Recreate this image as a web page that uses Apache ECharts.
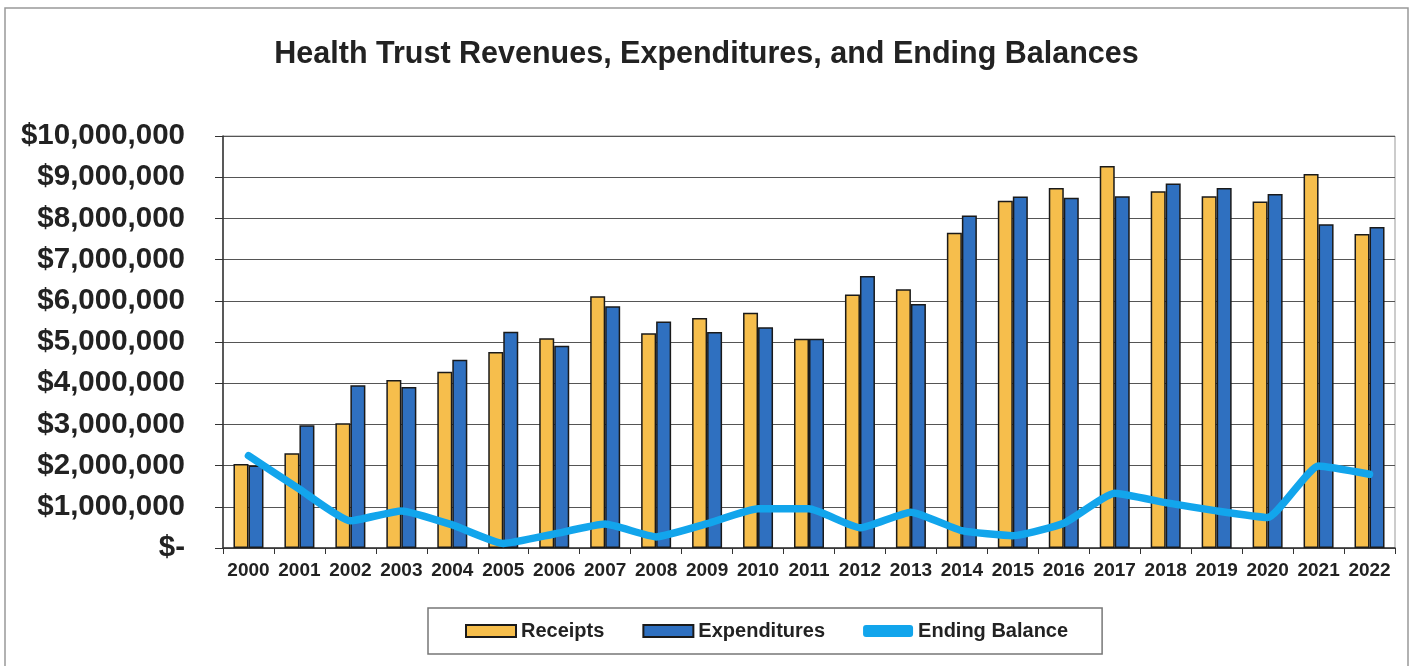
<!DOCTYPE html>
<html>
<head>
<meta charset="utf-8">
<script src="https://cdn.jsdelivr.net/npm/echarts@6/dist/echarts.min.js"></script>
<style>
html,body{margin:0;padding:0;background:#fff;}
#chart{width:1413px;height:666px;}
</style>
</head>
<body>
<div id="chart"></div>
<script>
var years = ['2000','2001','2002','2003','2004','2005','2006','2007','2008','2009','2010','2011','2012','2013','2014','2015','2016','2017','2018','2019','2020','2021','2022'];
var receipts = [2040000,2300000,3030000,4080000,4280000,4760000,5090000,6110000,5210000,5580000,5710000,5080000,6150000,6280000,7650000,8430000,8740000,9270000,8660000,8540000,8410000,9080000,7620000];
var expenditures = [2000000,2980000,3950000,3910000,4570000,5250000,4910000,5870000,5500000,5240000,5360000,5080000,6600000,5920000,8070000,8530000,8500000,8540000,8850000,8740000,8590000,7860000,7790000];
var endingBalance = [2240000,1430000,660000,900000,560000,110000,340000,580000,270000,590000,950000,950000,490000,870000,420000,300000,600000,1330000,1100000,900000,740000,1990000,1790000];
var yTicks = [0,1000000,2000000,3000000,4000000,5000000,6000000,7000000,8000000,9000000,10000000];

var chart = echarts.init(document.getElementById('chart'));
var font = 'Liberation Sans, Arial, sans-serif';
chart.setOption({
  backgroundColor: '#fff',
  animation: false,
  graphic: [{
    type: 'rect', shape: {x: 5, y: 8, width: 1403, height: 680},
    style: {fill: 'none', stroke: '#999', lineWidth: 1.5}, silent: true
  }],
  title: {
    text: 'Health Trust Revenues, Expenditures, and Ending Balances',
    left: 'center', top: 34,
    textStyle: {fontFamily: font, fontWeight: 'bold', fontSize: 30.5, color: '#222'}
  },
  legend: {
    bottom: 12, left: 428,
    itemWidth: 50, itemHeight: 12, itemGap: 38,
    padding: [13, 34, 13, 37],
    borderColor: '#777', borderWidth: 1.5,
    textStyle: {fontFamily: font, fontWeight: 'bold', fontSize: 20, color: '#222'},
    data: [
      {name: 'Receipts', icon: 'rect'},
      {name: 'Expenditures', icon: 'rect'},
      {name: 'Ending Balance', icon: 'roundRect', itemStyle: {color: '#12A5EC', borderWidth: 0}}
    ]
  },
  grid: {left: 223, right: 18, top: 136, bottom: 118, show: true, borderColor: '#999', borderWidth: 1},
  xAxis: {
    type: 'category', data: years, boundaryGap: true,
    axisLine: {lineStyle: {color: '#333', width: 1.5}},
    axisTick: {show: true, length: 6, inside: false, lineStyle: {color: '#333'}},
    axisLabel: {fontFamily: font, fontWeight: 'bold', fontSize: 19, color: '#222', margin: 13, interval: 0}
  },
  yAxis: {
    type: 'value', min: 0, max: 10000000, interval: 1000000,
    axisLine: {show: true, lineStyle: {color: '#333', width: 1.5}},
    axisTick: {show: true, length: 8, lineStyle: {color: '#333'}},
    splitLine: {lineStyle: {color: '#555', width: 1}},
    axisLabel: {
      fontFamily: font, fontWeight: 'bold', fontSize: 29.5, color: '#222', margin: 38,
      formatter: function (v) { return v === 0 ? '$-' : '$' + v.toLocaleString('en-US'); }
    }
  },
  series: [
    {
      name: 'Receipts', type: 'bar', data: receipts, barWidth: 15, barGap: '0%',
      itemStyle: {color: '#F6BE4C', borderColor: '#1a1a1a', borderWidth: 1.5}
    },
    {
      name: 'Expenditures', type: 'bar', data: expenditures, barWidth: 15, barGap: '0%',
      itemStyle: {color: '#2F70C0', borderColor: '#1a1a1a', borderWidth: 1.5}
    },
    {
      name: 'Ending Balance', type: 'line', data: endingBalance, showSymbol: false, smooth: 0.15,
      lineStyle: {color: '#12A5EC', width: 7.5, join: 'round', cap: 'round'},
      itemStyle: {color: '#12A5EC'}, z: 5
    }
  ]
});
</script>
</body>
</html>
